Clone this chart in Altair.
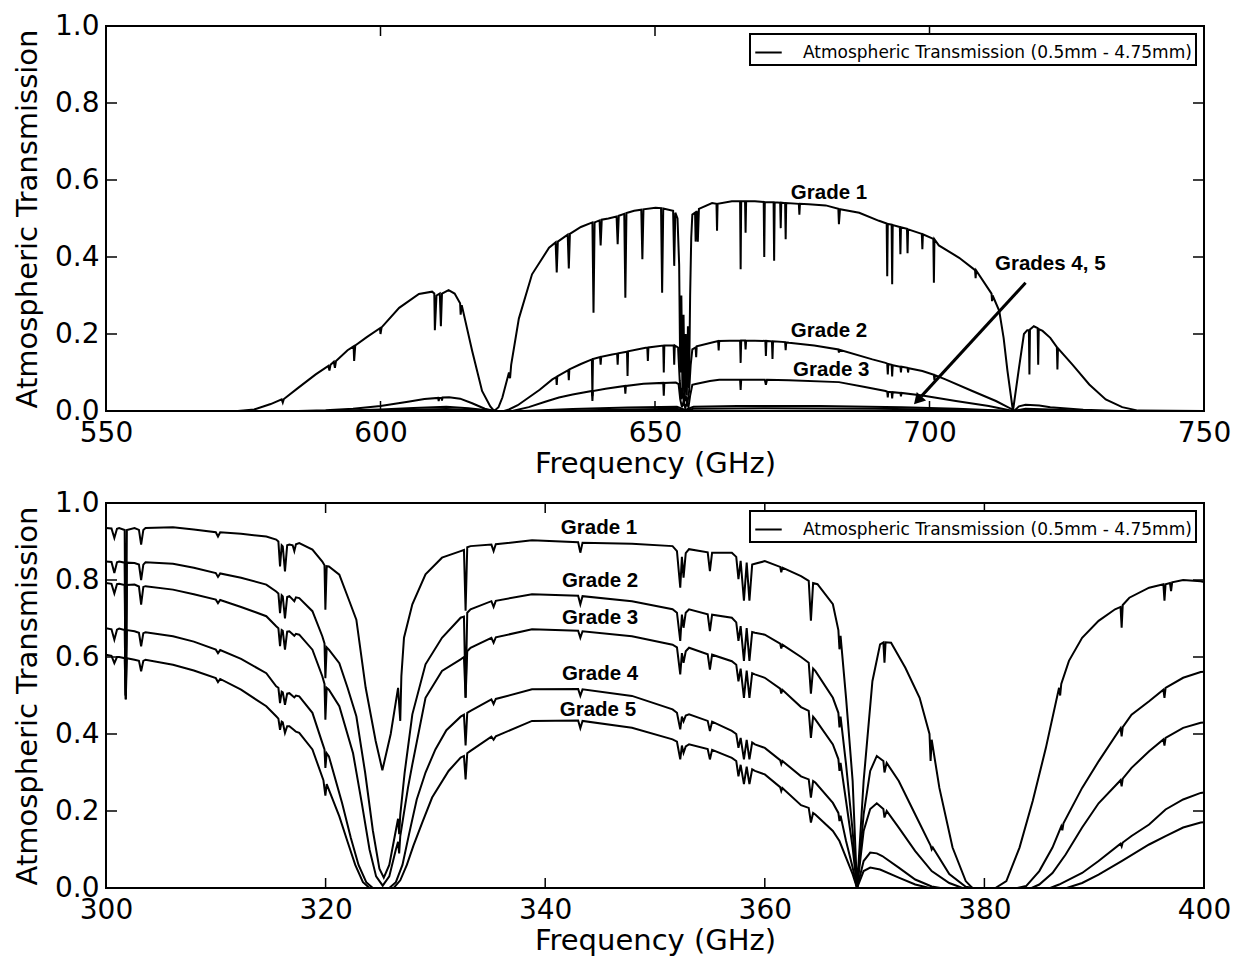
import altair as alt
import pandas as pd

# ---------------- data ----------------
TOP_XTICKS = [550, 600, 650, 700, 750]
BOT_XTICKS = [300, 320, 340, 360, 380, 400]
YTICKS = [0.0, 0.2, 0.4, 0.6, 0.8, 1.0]
LEGEND_TEXT = "Atmospheric Transmission (0.5mm - 4.75mm)"

TOP_G1 = [(550,0),(565,0),(574,0.0),(577,0.004),(580,0.018),(582,0.03),(582.2,0.022),(582.4,0.031),(585,0.06),
 (588.2,0.095),(590.5,0.117),(590.7,0.105),(590.9,0.12),(591.5,0.128),(591.7,0.112),(591.9,0.13),(594,0.158),
 (595.1,0.168),(595.2,0.13),(595.4,0.17),(597.5,0.192),(599.9,0.215),(600.0,0.2),(600.2,0.217),(603.4,0.268),
 (607,0.304),(609.4,0.31),(609.8,0.305),(609.9,0.21),(610.2,0.30),(610.8,0.305),(611.0,0.22),(611.2,0.305),
 (612.4,0.314),(613.5,0.305),(614.5,0.28),(614.6,0.25),(614.8,0.275),(616.7,0.156),(618.5,0.052),(620.0,0.012),
 (620.7,0.0),(621.5,0.01),(622.2,0.035),(623.4,0.1),(623.6,0.085),(623.8,0.12),(625.2,0.24),(627.6,0.355),
 (630.7,0.424),(631.9,0.438),(632.1,0.36),(632.3,0.44),(634.1,0.458),(634.3,0.37),(634.5,0.46),(636.5,0.478),
 (638.6,0.49),(638.8,0.255),(639.0,0.49),(639.9,0.495),(640.1,0.43),(640.3,0.497),(641.5,0.50),(643.0,0.505),
 (643.2,0.433),(643.4,0.507),(644.4,0.512),(644.6,0.294),(644.8,0.514),(646.2,0.52),(647.5,0.523),(647.7,0.394),
 (647.9,0.524),(650.1,0.528),(651.1,0.527),(651.3,0.307),(651.5,0.526),(653.3,0.52),(653.5,0.377),(653.7,0.515),
 (654.1,0.5),(654.4,0.38),(654.6,0.1),(654.8,0.3),(655.0,0.05),(655.2,0.25),(655.4,0.03),(655.6,0.2),(655.8,0.04),
 (656.0,0.22),(656.2,0.06),(656.4,0.3),(656.6,0.45),(656.8,0.51),(657.3,0.515),(657.4,0.44),(657.6,0.52),
 (657.8,0.44),(658.0,0.525),(660.4,0.54),(661.2,0.538),(661.3,0.468),(661.4,0.538),(664,0.545),(665.5,0.545),
 (665.6,0.368),(665.7,0.545),(666.4,0.545),(666.5,0.463),(666.6,0.545),(668.2,0.545),(669.8,0.543),(669.9,0.40),
 (670.0,0.543),(671.6,0.542),(671.7,0.39),(671.8,0.542),(672.8,0.541),(672.9,0.475),(673.0,0.541),(673.7,0.54),
 (673.8,0.446),(673.9,0.54),(676.2,0.538),(676.3,0.51),(676.4,0.538),(678,0.537),(681.1,0.534),(683.4,0.525),
 (683.5,0.485),(683.7,0.524),(687.2,0.515),(690.8,0.494),(692.2,0.487),(692.3,0.35),(692.4,0.486),(693.1,0.484),
 (693.2,0.329),(693.3,0.483),(694.6,0.478),(694.7,0.407),(694.8,0.477),(695.9,0.473),(696.0,0.41),(696.1,0.472),
 (698.6,0.46),(698.7,0.42),(698.8,0.459),(700.7,0.447),(700.8,0.333),(700.9,0.446),(701.7,0.43),(705.4,0.398),
 (708.3,0.366),(708.4,0.345),(708.5,0.365),(711.3,0.305),(711.4,0.285),(711.5,0.3),(712.7,0.26),(713.5,0.19),
 (714.2,0.104),(715.2,0.0),(716.3,0.112),(717.2,0.2),(717.8,0.21),(718.1,0.21),(718.2,0.095),(718.3,0.212),
 (719.0,0.22),(719.7,0.215),(719.8,0.12),(719.9,0.213),(720.6,0.208),(722,0.19),(723.2,0.166),(723.3,0.108),
 (723.4,0.163),(726.0,0.121),(729.1,0.069),(732.1,0.030),(735.1,0.01),(738,0.001),(750,0)]

TOP_G2 = [(550,0),(585,0),(590,0.002),(595,0.006),(600,0.013),(605,0.024),(608,0.031),(610.5,0.034),(610.6,0.026),
 (610.7,0.034),(611.1,0.034),(611.2,0.027),(611.3,0.035),(612.5,0.036),(614.5,0.032),(616.7,0.02),(619,0.006),
 (620.7,0.0),(622.5,0.0),(623.4,0.004),(625,0.015),(627,0.035),(629,0.055),(631.3,0.082),(632.0,0.088),
 (632.1,0.068),(632.2,0.09),(634.2,0.106),(634.3,0.08),(634.4,0.108),(636.5,0.122),(638.5,0.134),(638.6,0.039),
 (638.7,0.135),(640.0,0.14),(640.1,0.12),(640.2,0.141),(642.2,0.147),(643.1,0.149),(643.2,0.12),(643.3,0.15),
 (644.9,0.154),(645.0,0.091),(645.1,0.155),(648.3,0.164),(648.6,0.164),(648.7,0.13),(648.8,0.165),(651.5,0.17),
 (651.6,0.10),(651.7,0.17),(653.4,0.17),(653.5,0.12),(653.6,0.17),(654.2,0.165),(654.5,0.08),(654.8,0.03),
 (655.0,0.06),(655.3,0.02),(655.6,0.04),(655.9,0.02),(656.2,0.05),(656.5,0.12),(656.8,0.16),(657.4,0.165),
 (657.5,0.14),(657.6,0.168),(661.5,0.182),(661.6,0.157),(661.7,0.182),(665.5,0.183),(665.6,0.125),(665.7,0.183),
 (666.4,0.183),(666.5,0.16),(666.6,0.183),(670.1,0.182),(670.2,0.143),(670.3,0.182),(671.3,0.181),(671.4,0.135),
 (671.5,0.181),(673.7,0.179),(673.8,0.158),(673.9,0.178),(674.4,0.177),(679,0.17),(683.4,0.16),(683.5,0.152),
 (683.6,0.159),(689.6,0.134),(692,0.125),(692.3,0.123),(692.4,0.095),(692.5,0.122),(693.1,0.12),(693.2,0.09),
 (693.3,0.119),(694.7,0.115),(694.8,0.1),(694.9,0.115),(696,0.112),(696.1,0.1),(696.2,0.111),(698.7,0.104),
 (700.8,0.094),(700.9,0.08),(701.0,0.093),(702.9,0.082),(707.8,0.052),(712.1,0.026),(715.1,0.004),(715.4,0.0),
 (716.3,0.012),(717.5,0.016),(720,0.014),(722,0.01),(728,0.003),(735,0),(750,0)]

TOP_G3 = [(550,0),(590,0),(600,0.004),(606,0.008),(612,0.011),(616,0.007),(620.7,0),(624,0),(627,0.01),(630,0.024),
 (632.5,0.035),(635,0.043),(638.5,0.052),(638.6,0.026),(638.7,0.052),(641,0.058),(644.5,0.065),(644.6,0.045),
 (644.7,0.065),(647.9,0.071),(651.5,0.073),(651.6,0.04),(651.7,0.073),(653.8,0.074),(654.3,0.07),(654.6,0.03),
 (654.9,0.01),(655.2,0.025),(655.5,0.008),(655.8,0.02),(656.1,0.01),(656.4,0.04),(656.8,0.068),(657.4,0.07),
 (660,0.078),(661.7,0.081),(665.5,0.081),(665.6,0.055),(665.7,0.081),(670,0.081),(670.2,0.068),(670.4,0.081),
 (674.4,0.08),(683.5,0.075),(688,0.063),(692,0.052),(692.3,0.05),(692.4,0.035),(692.5,0.05),(693.1,0.049),
 (693.2,0.033),(693.3,0.049),(694.7,0.047),(694.8,0.038),(694.9,0.047),(698.7,0.04),(704.8,0.026),(710.8,0.013),
 (715.2,0.0),(717.5,0.006),(722,0.004),(730,0),(750,0)]

TOP_G4 = [(550,0),(595,0),(605,0.003),(612,0.005),(618,0.002),(621,0),(626,0),(635,0.005),(645,0.009),(654,0.011),
 (655.5,0.003),(657,0.011),(665,0.013),(680,0.013),(695,0.01),(705,0.006),(715.2,0),(718,0.002),(725,0),(750,0)]

TOP_G5 = [(550,0),(600,0),(612,0.002),(621,0),(630,0),(645,0.004),(654,0.006),(655.5,0.001),(657,0.006),
 (670,0.007),(690,0.006),(705,0.003),(715.2,0),(750,0)]

BOT_G1 = [(300.0,0.935),(300.5,0.934),(300.76,0.909),(301.0,0.933),(301.2,0.935),(301.7,0.93),(301.8,0.49),
 (301.9,0.93),(302.6,0.935),(303.0,0.93),(303.2,0.892),(303.4,0.93),(303.6,0.935),(306.1,0.937),(308.0,0.931),
 (310.0,0.924),(310.2,0.913),(310.4,0.924),(312.3,0.92),(314.6,0.913),(315.5,0.905),(315.7,0.9),(315.85,0.835),
 (316.0,0.89),(316.1,0.887),(316.3,0.822),(316.5,0.89),(316.7,0.892),(317.0,0.89),(317.15,0.875),(317.3,0.893),
 (317.6,0.896),(318.8,0.879),(319.7,0.848),(319.9,0.838),(319.98,0.723),(320.1,0.836),(320.3,0.835),(321.25,0.814),
 (322.1,0.75),(322.8,0.697),(323.65,0.52),(324.56,0.382),(325.17,0.306),(325.93,0.40),(326.6,0.52),(326.8,0.434),
 (326.9,0.55),(327.14,0.65),(327.9,0.737),(329.1,0.815),(330.6,0.858),(332.3,0.875),(332.6,0.878),(332.75,0.72),
 (332.9,0.885),(333.2,0.888),(335.1,0.892),(335.3,0.875),(335.5,0.893),(338.8,0.903),(343.0,0.898),(343.2,0.871),
 (343.4,0.897),(347.9,0.894),(351.6,0.888),(352.0,0.875),(352.3,0.78),(352.45,0.86),(352.6,0.806),(352.8,0.87),
 (353.1,0.880),(354.8,0.872),(355.0,0.823),(355.2,0.871),(357.0,0.871),(357.4,0.86),(357.6,0.802),(357.8,0.85),
 (358.1,0.746),(358.35,0.845),(358.6,0.746),(358.85,0.84),(359.1,0.842),(360.0,0.849),(361.4,0.834),(361.5,0.82),
 (361.6,0.832),(363.3,0.81),(364.0,0.798),(364.2,0.694),(364.4,0.792),(364.8,0.789),(366.2,0.737),(366.7,0.67),
 (366.8,0.62),(366.9,0.655),(367.4,0.494),(368.0,0.278),(368.4,0.0),(369.0,0.278),(369.8,0.537),(370.5,0.633),
 (370.8,0.638),(370.9,0.585),(371.0,0.638),(371.5,0.637),(372.8,0.572),(374.1,0.494),(375.0,0.4),(375.1,0.33),
 (375.2,0.385),(375.9,0.26),(377.1,0.105),(378.3,0.018),(378.9,0.0),(381.0,0.0),(382.0,0.018),(383.2,0.105),
 (384.4,0.226),(385.6,0.364),(386.8,0.52),(386.9,0.5),(387.0,0.53),(387.7,0.59),(388.9,0.65),(390.4,0.694),
 (391.9,0.724),(392.4,0.73),(392.5,0.676),(392.6,0.735),(393.2,0.754),(395.0,0.78),(396.3,0.789),(396.4,0.746),
 (396.5,0.789),(396.9,0.792),(397.0,0.771),(397.1,0.794),(398.1,0.8),(399.7,0.797),(400,0.795)]

BOT_G2 = [(300.0,0.848),(300.5,0.847),(300.76,0.818),(301.0,0.846),(301.2,0.848),(301.7,0.845),(301.8,0.5),
 (301.9,0.845),(302.6,0.844),(303.0,0.84),(303.2,0.8),(303.4,0.84),(303.6,0.846),(306.1,0.842),(308.0,0.832),
 (310.0,0.818),(310.2,0.808),(310.4,0.817),(312.3,0.806),(314.6,0.788),(315.5,0.77),(315.7,0.765),(315.85,0.714),
 (316.0,0.76),(316.1,0.757),(316.3,0.70),(316.5,0.756),(316.7,0.758),(317.15,0.745),(317.3,0.755),(317.6,0.753),
 (318.8,0.719),(319.7,0.654),(319.9,0.635),(319.98,0.545),(320.1,0.625),(320.3,0.619),(321.25,0.584),(322.0,0.52),
 (322.8,0.446),(323.6,0.30),(324.3,0.15),(324.9,0.05),(325.3,0.027),(325.8,0.06),(326.4,0.15),(326.6,0.18),
 (326.7,0.14),(326.8,0.19),(327.2,0.3),(327.9,0.451),(329.1,0.581),(330.6,0.650),(332.3,0.702),(332.6,0.705),
 (332.75,0.494),(332.9,0.715),(333.2,0.724),(335.1,0.745),(335.3,0.73),(335.5,0.746),(338.8,0.763),(343.0,0.759),
 (343.2,0.737),(343.4,0.758),(347.9,0.745),(351.6,0.724),(352.0,0.715),(352.3,0.642),(352.45,0.71),(352.6,0.676),
 (352.8,0.715),(353.1,0.724),(354.8,0.711),(355.0,0.667),(355.2,0.71),(357.0,0.702),(357.4,0.69),(357.6,0.642),
 (357.8,0.68),(358.1,0.59),(358.35,0.675),(358.6,0.59),(358.85,0.665),(359.1,0.663),(360.0,0.658),(361.4,0.635),
 (361.5,0.622),(361.6,0.632),(363.3,0.60),(364.0,0.585),(364.2,0.505),(364.4,0.57),(364.6,0.564),(366.2,0.494),
 (366.7,0.455),(366.8,0.417),(366.9,0.445),(367.4,0.321),(368.0,0.148),(368.4,0.0),(369.0,0.191),(369.6,0.304),
 (370.2,0.343),(370.8,0.33),(370.9,0.30),(371.1,0.325),(372.2,0.278),(373.7,0.191),(375.1,0.11),(375.2,0.1),
 (375.3,0.105),(376.8,0.036),(378.3,0.003),(379,0),(383.0,0),(383.8,0.005),(385.0,0.044),(386.2,0.105),
 (387.0,0.16),(387.1,0.15),(387.2,0.168),(388.9,0.26),(390.4,0.329),(392.4,0.415),(392.5,0.394),(392.6,0.418),
 (393.4,0.45),(395.0,0.485),(396.3,0.515),(396.4,0.494),(396.5,0.52),(398.1,0.546),(399.7,0.561),(400,0.562)]

BOT_G3 = [(300.0,0.792),(300.5,0.79),(300.76,0.765),(301.0,0.789),(301.2,0.79),(301.7,0.787),(301.8,0.5),
 (301.9,0.787),(302.6,0.788),(303.0,0.783),(303.2,0.736),(303.4,0.782),(303.6,0.784),(306.1,0.775),(308.0,0.763),
 (310.0,0.749),(310.2,0.74),(310.4,0.748),(312.3,0.73),(314.6,0.706),(315.5,0.68),(315.7,0.675),(315.85,0.628),
 (316.0,0.67),(316.1,0.668),(316.3,0.619),(316.5,0.666),(316.7,0.667),(317.15,0.655),(317.3,0.66),(317.6,0.658),
 (318.8,0.619),(319.7,0.55),(319.9,0.53),(319.98,0.437),(320.1,0.52),(320.3,0.515),(321.25,0.472),(322.5,0.35),
 (323.3,0.22),(324.0,0.1),(324.6,0.03),(325.2,0.006),(325.8,0.03),(326.4,0.1),(326.6,0.12),(326.7,0.09),
 (326.8,0.135),(327.5,0.26),(327.9,0.321),(329.1,0.494),(330.6,0.564),(332.3,0.594),(332.6,0.6),(332.75,0.494),
 (332.9,0.615),(333.2,0.624),(335.1,0.65),(335.3,0.637),(335.5,0.651),(338.8,0.672),(343.0,0.668),(343.2,0.65),
 (343.4,0.667),(347.9,0.654),(351.6,0.632),(352.0,0.625),(352.3,0.555),(352.45,0.61),(352.6,0.585),(352.8,0.615),
 (353.1,0.624),(354.8,0.607),(355.0,0.567),(355.2,0.606),(357.0,0.589),(357.4,0.58),(357.6,0.537),(357.8,0.57),
 (358.1,0.494),(358.35,0.565),(358.6,0.494),(358.85,0.558),(359.1,0.555),(360.0,0.546),(361.4,0.518),(361.5,0.505),
 (361.6,0.515),(363.3,0.47),(364.0,0.46),(364.2,0.39),(364.4,0.445),(364.6,0.438),(366.2,0.373),(366.7,0.335),
 (366.8,0.304),(366.9,0.325),(367.4,0.226),(368.0,0.105),(368.4,0.0),(369.0,0.148),(369.6,0.205),(370.2,0.22),
 (370.8,0.205),(370.9,0.183),(371.1,0.2),(372.2,0.157),(373.7,0.096),(375.2,0.044),(376.8,0.013),(378.0,0),
 (384.3,0),(385.0,0.009),(386.2,0.039),(387.4,0.087),(388.9,0.157),(390.4,0.22),(392.4,0.28),(392.5,0.264),
 (392.6,0.284),(393.4,0.312),(395.0,0.355),(396.3,0.386),(396.4,0.37),(396.5,0.39),(398.1,0.416),(399.7,0.429),
 (400,0.43)]

BOT_G4 = [(300.0,0.675),(300.5,0.672),(300.76,0.645),(301.0,0.671),(301.2,0.674),(301.7,0.67),(301.8,0.5),
 (301.9,0.67),(302.6,0.667),(303.0,0.663),(303.2,0.628),(303.4,0.662),(303.6,0.664),(306.1,0.654),(308.0,0.64),
 (310.0,0.619),(310.2,0.61),(310.4,0.618),(312.3,0.595),(314.6,0.558),(315.5,0.524),(315.7,0.52),(315.85,0.48),
 (316.0,0.51),(316.1,0.508),(316.3,0.476),(316.5,0.505),(316.7,0.506),(317.15,0.495),(317.3,0.5),(317.6,0.498),
 (318.8,0.455),(319.7,0.377),(319.9,0.36),(319.98,0.312),(320.1,0.35),(320.3,0.342),(321.5,0.221),(322.3,0.13),
 (323.0,0.06),(323.7,0.015),(324.3,0.0),(325.8,0.0),(326.4,0.015),(327.0,0.06),(327.6,0.14),(328.3,0.23),
 (329.1,0.30),(330.0,0.36),(331.0,0.41),(332.3,0.445),(332.6,0.45),(332.75,0.37),(332.9,0.455),(333.2,0.46),
 (335.1,0.49),(335.3,0.478),(335.5,0.491),(338.8,0.516),(343.0,0.517),(343.2,0.499),(343.4,0.516),(347.9,0.499),
 (351.6,0.464),(352.0,0.455),(352.3,0.412),(352.45,0.445),(352.6,0.433),(352.8,0.448),(353.1,0.451),(354.8,0.434),
 (355.0,0.408),(355.2,0.432),(357.0,0.408),(357.4,0.4),(357.6,0.364),(357.8,0.39),(358.1,0.334),(358.35,0.385),
 (358.6,0.334),(358.85,0.378),(359.1,0.373),(360.0,0.364),(361.4,0.332),(361.5,0.322),(361.6,0.33),(363.3,0.29),
 (364.0,0.282),(364.2,0.235),(364.4,0.278),(364.6,0.274),(366.2,0.221),(366.7,0.195),(366.8,0.174),(366.9,0.188),
 (367.4,0.122),(368.0,0.053),(368.4,0.0),(369.0,0.07),(369.6,0.092),(370.2,0.09),(370.7,0.083),(372.2,0.053),
 (373.7,0.022),(375.2,0.004),(376.0,0),(386.0,0),(386.8,0.009),(388.9,0.039),(390.4,0.07),(392.4,0.115),
 (392.5,0.108),(392.6,0.118),(393.4,0.135),(395.0,0.165),(396.5,0.204),(398.1,0.23),(399.7,0.247),(400,0.248)]

BOT_G5 = [(300.0,0.606),(300.5,0.603),(300.76,0.584),(301.0,0.6),(301.2,0.6),(301.7,0.597),(301.8,0.49),
 (301.9,0.597),(302.6,0.593),(303.0,0.59),(303.2,0.563),(303.4,0.59),(303.6,0.593),(306.1,0.58),(308.0,0.565),
 (310.0,0.545),(310.2,0.535),(310.4,0.543),(312.3,0.515),(314.6,0.472),(315.5,0.446),(315.7,0.44),(315.85,0.411),
 (316.0,0.432),(316.1,0.43),(316.3,0.403),(316.5,0.42),(316.7,0.42),(317.15,0.41),(317.3,0.406),(317.6,0.403),
 (318.8,0.36),(319.8,0.28),(319.98,0.24),(320.1,0.27),(321.25,0.186),(322.0,0.12),(322.7,0.06),(323.4,0.015),
 (324.0,0.0),(326.2,0.0),(326.8,0.02),(327.4,0.06),(328.0,0.11),(328.8,0.17),(329.7,0.235),(331.2,0.304),
 (332.3,0.339),(332.6,0.343),(332.75,0.282),(332.9,0.35),(333.2,0.356),(335.1,0.393),(335.3,0.385),(335.5,0.394),
 (338.8,0.434),(343.0,0.435),(343.2,0.415),(343.4,0.434),(347.9,0.416),(351.6,0.386),(352.0,0.38),(352.3,0.334),
 (352.45,0.37),(352.6,0.351),(352.8,0.368),(353.1,0.373),(354.8,0.361),(355.0,0.334),(355.2,0.359),(357.0,0.338),
 (357.4,0.33),(357.6,0.29),(357.8,0.32),(358.1,0.27),(358.35,0.315),(358.6,0.27),(358.85,0.308),(359.1,0.304),
 (360.0,0.295),(361.4,0.262),(361.5,0.252),(361.6,0.26),(363.3,0.215),(364.0,0.208),(364.2,0.17),(364.4,0.195),
 (364.6,0.191),(366.2,0.148),(366.8,0.122),(367.4,0.079),(368.0,0.036),(368.4,0.0),(369.0,0.044),(369.6,0.053),
 (370.5,0.048),(372.2,0.027),(373.7,0.009),(375,0),(387.5,0),(388.9,0.013),(390.4,0.035),(392.5,0.07),
 (395.0,0.113),(396.5,0.135),(398.1,0.157),(399.7,0.17),(400,0.171)]

TOP_LABELS = ["Grade 1", "Grade 2", "Grade 3", "Grades 4, 5"]
TOP_LABEL_X = [681.7, 681.7, 682.1, 722.0]
TOP_LABEL_Y = [0.566, 0.208, 0.106, 0.382]
BOT_LABELS = ["Grade 1", "Grade 2", "Grade 3", "Grade 4", "Grade 5"]
BOT_LABEL_X = [344.9, 345.0, 345.0, 345.0, 344.8]
BOT_LABEL_Y = [0.935, 0.797, 0.701, 0.556, 0.462]

ARROW_X = [717.5, 698.5]
ARROW_Y = [0.333, 0.038]
ARROW_HEAD_X = [697.85]
ARROW_HEAD_Y = [0.028]

# ---------------- chart ----------------
W, H = 1098, 385
FONT = "DejaVu Sans"
X_TITLE = "Frequency (GHz)"
Y_TITLE = "Atmospheric Transmission"


def frame(series):
    rows = []
    for name, pts in series:
        for f, v in pts:
            rows.append({"freq": f, "value": v, "grade": name, "legend": LEGEND_TEXT})
    return pd.DataFrame(rows)


def panel(series, domain, xticks, labels, lx, ly, arrow=False):
    xs = alt.Scale(domain=domain, nice=False, zero=False)
    ys = alt.Scale(domain=[0, 1], nice=False, zero=False)
    xaxis = alt.Axis(values=xticks, format="d", title=X_TITLE, ticks=False, domain=False, grid=False,
                     labelFlush=False, labelOverlap=False, labelPadding=8, titlePadding=2)
    yaxis = alt.Axis(values=YTICKS, format=".1f", title=Y_TITLE, ticks=False, domain=False, grid=False,
                     labelFlush=False, labelOverlap=False, labelPadding=7, titlePadding=12)

    def X(field):
        return alt.X(field, scale=xs, axis=xaxis, title=X_TITLE)

    def Y(field):
        return alt.Y(field, scale=ys, axis=yaxis, title=Y_TITLE)

    df = frame(series)
    lines = alt.Chart(df).mark_line(strokeWidth=2, clip=True).encode(
        x=X("freq:Q"),
        y=Y("value:Q"),
        detail="grade:N",
        color=alt.Color("legend:N", scale=alt.Scale(range=["black"]),
                        legend=alt.Legend(orient="top-right", title=None, labelFont=FONT, labelFontSize=17,
                                          labelColor="black", labelLimit=0, symbolType="stroke",
                                          symbolStrokeWidth=2, symbolSize=700, padding=4, offset=8,
                                          labelOffset=20, strokeColor="black", fillColor="white",
                                          cornerRadius=0)),
    )
    tdf = pd.DataFrame({"freq": xticks})
    ydf = pd.DataFrame({"value": YTICKS})
    tick_style = dict(color="black", strokeWidth=1.5)
    xb = alt.Chart(tdf).mark_rule(**tick_style).encode(x=X("freq:Q"), y=alt.value(H), y2=alt.value(H - 10))
    xt = alt.Chart(tdf).mark_rule(**tick_style).encode(x=X("freq:Q"), y=alt.value(0), y2=alt.value(10))
    yl = alt.Chart(ydf).mark_rule(**tick_style).encode(y=Y("value:Q"), x=alt.value(0), x2=alt.value(11))
    yr = alt.Chart(ydf).mark_rule(**tick_style).encode(y=Y("value:Q"), x=alt.value(W), x2=alt.value(W - 11))
    ldf = pd.DataFrame({"label": labels, "freq": lx, "value": ly})
    text = alt.Chart(ldf).mark_text(font="Liberation Sans", fontWeight="bold", fontSize=20.5,
                                    color="black", align="center", baseline="middle").encode(
        x=X("freq:Q"), y=Y("value:Q"), text="label:N")
    layers = [lines, xb, xt, yl, yr, text]
    if arrow:
        adf = pd.DataFrame({"freq": ARROW_X, "value": ARROW_Y})
        a_line = alt.Chart(adf).mark_line(color="black", strokeWidth=3).encode(x=X("freq:Q"), y=Y("value:Q"))
        hdf = pd.DataFrame({"freq": ARROW_HEAD_X, "value": ARROW_HEAD_Y})
        a_head = alt.Chart(hdf).mark_point(shape="triangle-up", filled=True, color="black", size=160,
                                            angle=222.5, opacity=1).encode(x=X("freq:Q"), y=Y("value:Q"))
        layers += [a_line, a_head]
    return alt.layer(*layers).properties(width=W, height=H)


top = panel([("Grade 1", TOP_G1), ("Grade 2", TOP_G2), ("Grade 3", TOP_G3), ("Grade 4", TOP_G4), ("Grade 5", TOP_G5)],
            [550, 750], TOP_XTICKS, TOP_LABELS, TOP_LABEL_X, TOP_LABEL_Y, arrow=True)
bottom = panel([("Grade 1", BOT_G1), ("Grade 2", BOT_G2), ("Grade 3", BOT_G3), ("Grade 4", BOT_G4), ("Grade 5", BOT_G5)],
               [300, 400], BOT_XTICKS, BOT_LABELS, BOT_LABEL_X, BOT_LABEL_Y)

chart = alt.vconcat(top, bottom, spacing=9).resolve_scale(
    x="independent", y="independent", color="independent"
).configure_view(stroke="black", strokeWidth=2).configure_axis(
    labelFont=FONT, labelFontSize=28, labelColor="black",
    titleFont=FONT, titleFontSize=29, titleFontWeight="normal", titleColor="black"
).configure_legend(strokeWidth=2).properties(
    background="white", padding={"left": 12, "top": 11, "right": 3, "bottom": 3}
)

chart.save("out.html", embed_options={"renderer": "svg", "actions": False})
